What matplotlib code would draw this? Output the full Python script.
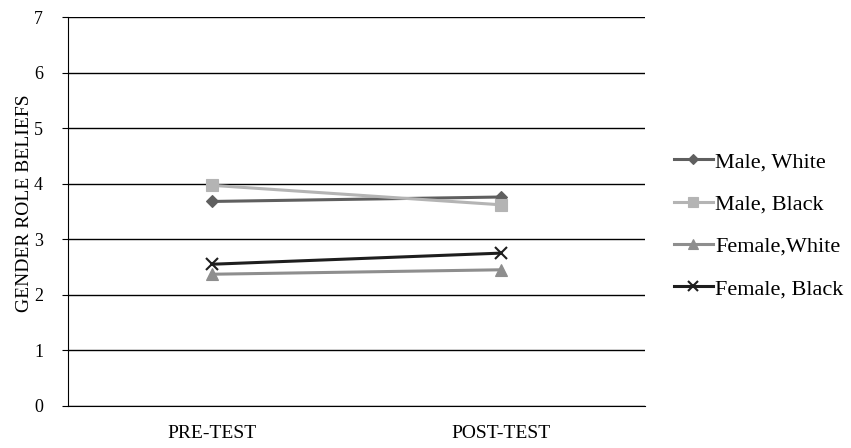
import matplotlib
matplotlib.use("Agg")
import matplotlib.pyplot as plt

categories = ["PRE-TEST", "POST-TEST"]
series_names = ["Male, White", "Male, Black", "Female,White", "Female, Black"]
male_white = [3.68, 3.76]
male_black = [3.97, 3.62]
female_white = [2.37, 2.45]
female_black = [2.55, 2.75]
y_ticks = [0, 1, 2, 3, 4, 5, 6, 7]

plt.rcParams['font.family'] = ['Liberation Serif', 'DejaVu Serif']

fig = plt.figure(figsize=(8.51, 4.48), dpi=100)
ax = fig.add_axes([0.080, 0.094, 0.678, 0.868])

x = list(range(len(categories)))
styles = [
    (male_white, "#5f5f5f", "D", 6),
    (male_black, "#b4b4b4", "s", 8),
    (female_white, "#8e8e8e", "^", 8),
    (female_black, "#1e1e1e", "x", 9),
]
for (vals, col, mk, ms), name in zip(styles, series_names):
    ax.plot(x, vals, color=col, lw=2.2, marker=mk, markersize=ms,
            markeredgewidth=1.5 if mk == "x" else 0.8, markeredgecolor=col,
            markerfacecolor=col, label=name, zorder=3)

ax.set_xlim(-0.5, 1.5)
ax.set_ylim(0, 7)
ax.set_yticks(y_ticks)
ax.set_xticks(x)
ax.set_xticklabels(categories, fontsize=14)
ax.tick_params(axis='x', length=0, pad=14)
ax.tick_params(axis='y', length=4, direction='out', labelsize=13, pad=14)
ax.grid(axis='y', color='black', lw=1.0)
ax.set_axisbelow(True)
for s in ['top', 'right']:
    ax.spines[s].set_visible(False)
ax.spines['left'].set_color('black')
ax.spines['bottom'].set_color('black')
ax.set_ylabel("GENDER ROLE BELIEFS", fontsize=14, labelpad=0)
ax.yaxis.set_label_coords(-0.060, 0.52)

leg = ax.legend(loc='center left', bbox_to_anchor=(1.05, 0.464), frameon=False,
                fontsize=16, handlelength=1.75, handletextpad=0.12, labelspacing=0.98,
                borderaxespad=0, borderpad=0, markerscale=0.85)

fig.savefig("out.png", dpi=100)
